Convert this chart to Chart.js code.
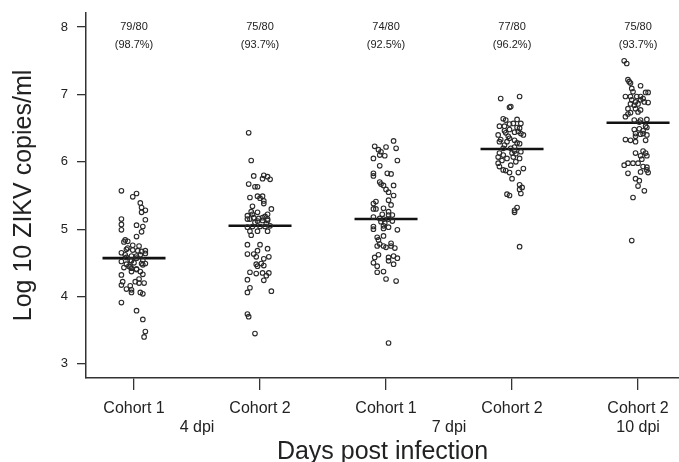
<!DOCTYPE html>
<html>
<head>
<meta charset="utf-8">
<script src="https://cdn.jsdelivr.net/npm/chart.js@4/dist/chart.umd.min.js"></script>
<style>
  html, body { margin: 0; padding: 0; background: #fff; }
  #wrap { width: 679px; height: 462px; }
</style>
</head>
<body>
<div id="wrap"><canvas id="chart" width="679" height="462"></canvas></div>
<script>
// groups on the x axis
const cohortLabels = ["Cohort 1", "Cohort 2", "Cohort 1", "Cohort 2", "Cohort 2"];
const dpiLabels = ["4 dpi", "7 dpi", "10 dpi"];
const dpiAt = [1.5, 3.5, 5];
const detected = ["79/80", "75/80", "74/80", "77/80", "75/80"];
const detectedPct = ["(98.7%)", "(93.7%)", "(92.5%)", "(96.2%)", "(93.7%)"];
const medians = [4.57, 5.05, 5.15, 6.19, 6.58];
const yTicks = [3, 4, 5, 6, 7, 8];

// log10 copies/ml
const g1Values = [5.57, 5.48, 5.53, 5.39, 5.32, 5.28, 5.25, 5.15, 5.07, 4.99, 5.06, 5.14, 5.04, 4.96, 4.89, 4.84, 4.82, 4.81, 4.76, 4.72,
  4.69, 4.68, 4.67, 4.68, 4.64, 4.65, 4.62, 4.60, 4.60, 4.58, 4.57, 4.52, 4.54, 4.54, 4.49, 4.47, 4.44, 4.42, 4.41, 4.53,
  4.49, 4.45, 4.37, 4.40, 4.37, 4.33, 4.32, 4.26, 4.22, 4.20, 4.20, 4.22, 4.17, 4.16, 4.11, 4.10, 4.06, 4.06, 4.04, 3.91,
  3.79, 3.66, 3.48, 3.40, 4.70, 4.62, 4.50, 4.48, 4.75, 4.43];
const g1Jitter = [-0.10, -0.01, 0.02, 0.05, 0.06, 0.09, 0.06, -0.10, -0.10, -0.10, 0.02, 0.09, 0.07, 0.06, 0.02, -0.07, -0.05, -0.08, -0.01, -0.05,
  -0.01, 0.03, 0.06, 0.09, 0.09, -0.10, -0.07, 0.02, -0.02, -0.06, 0.02, -0.10, -0.03, 0.07, 0.09, 0.07, -0.03, -0.02, 0.02, -0.02,
  0.06, -0.04, -0.02, 0.02, 0.05, 0.07, -0.10, 0.04, 0.01, 0.04, 0.08, -0.09, -0.10, -0.03, -0.06, -0.02, -0.02, 0.05, 0.07, -0.10,
  0.02, 0.07, 0.09, 0.08, -0.06, 0.05, 0.00, -0.06, 0.04, -0.08];

const g2Values = [6.43, 6.02, 5.79, 5.80, 5.78, 5.75, 5.74, 5.67, 5.63, 5.63, 5.49, 5.49, 5.46, 5.47, 5.42, 5.38, 5.34, 5.26, 5.30, 5.20,
  5.22, 5.19, 5.15, 5.15, 5.17, 5.16, 5.17, 5.15, 5.12, 5.13, 5.13, 5.10, 5.03, 5.04, 5.04, 5.04, 5.05, 4.97, 4.97, 4.97,
  4.91, 4.77, 4.77, 4.71, 4.68, 4.63, 4.63, 4.59, 4.56, 4.59, 4.48, 4.49, 4.45, 4.46, 4.36, 4.34, 4.35, 4.35, 4.31, 4.25,
  4.24, 4.13, 4.06, 4.08, 3.74, 3.70, 3.45, 5.22, 5.08, 5.25];
const g2Jitter = [-0.09, -0.07, -0.05, 0.03, 0.06, 0.02, 0.08, -0.09, -0.04, -0.02, -0.02, 0.02, 0.00, -0.08, 0.03, 0.03, -0.06, -0.07, 0.09, -0.10,
  0.06, 0.04, -0.10, -0.08, -0.05, -0.01, 0.02, 0.06, -0.02, 0.02, 0.06, -0.04, -0.10, -0.06, 0.00, 0.04, 0.08, -0.08, -0.02, 0.06,
  -0.07, -0.10, 0.00, 0.06, -0.02, -0.10, -0.05, -0.03, 0.03, 0.07, -0.03, 0.01, -0.02, 0.03, -0.08, -0.03, 0.02, 0.07, 0.05, -0.10,
  0.03, -0.08, -0.10, 0.09, -0.10, -0.09, -0.04, -0.06, 0.05, -0.02];

const g3Values = [6.31, 6.23, 6.22, 6.20, 6.18, 6.15, 6.10, 6.09, 6.05, 6.02, 5.94, 5.83, 5.79, 5.83, 5.82, 5.70, 5.67, 5.65, 5.65, 5.59,
  5.55, 5.50, 5.43, 5.41, 5.38, 5.36, 5.30, 5.30, 5.31, 5.26, 5.22, 5.21, 5.21, 5.18, 5.16, 5.15, 5.15, 5.11, 5.09, 5.04,
  5.05, 5.03, 5.00, 5.01, 4.99, 4.88, 4.90, 4.75, 4.78, 4.75, 4.73, 4.79, 4.75, 4.72, 4.58, 4.58, 4.60, 4.57, 4.53, 4.50,
  4.45, 4.48, 4.36, 4.37, 4.26, 4.23, 3.31, 4.84, 5.12, 4.62];
const g3Jitter = [0.06, -0.09, 0.00, 0.08, -0.06, -0.04, -0.05, -0.01, -0.10, 0.09, -0.05, -0.10, -0.10, 0.01, 0.04, -0.05, -0.04, -0.02, 0.06, 0.00,
  0.02, 0.06, 0.02, -0.08, -0.10, 0.04, -0.10, -0.08, -0.02, 0.02, -0.03, 0.02, 0.05, -0.10, -0.05, -0.02, 0.02, -0.04, -0.01, -0.10,
  -0.02, 0.02, -0.10, -0.02, 0.09, -0.07, -0.02, -0.07, -0.05, -0.02, 0.00, 0.04, 0.04, 0.07, -0.09, 0.02, 0.06, 0.09, 0.02, -0.10,
  -0.07, 0.06, -0.07, -0.02, 0.00, 0.08, 0.02, -0.06, 0.05, -0.06];

const g4Values = [6.94, 6.97, 6.82, 6.81, 6.64, 6.63, 6.53, 6.53, 6.56, 6.57, 6.57, 6.51, 6.50, 6.46, 6.43, 6.48, 6.45, 6.42, 6.40, 6.38,
  6.40, 6.33, 6.30, 6.30, 6.32, 6.28, 6.20, 6.20, 6.16, 6.15, 6.13, 6.10, 6.13, 6.12, 6.07, 6.05, 6.07, 6.05, 6.00, 5.98,
  5.93, 5.88, 5.87, 5.84, 5.84, 5.90, 5.75, 5.66, 5.62, 5.59, 5.53, 5.52, 5.50, 5.32, 5.28, 5.25, 4.74, 6.25, 6.22, 6.35,
  6.27, 6.02, 5.95, 6.62, 6.44];
const g4Jitter = [-0.09, 0.06, -0.01, -0.02, -0.07, 0.04, -0.10, -0.06, -0.02, 0.01, 0.07, 0.04, 0.06, -0.06, -0.05, -0.02, 0.05, 0.07, -0.11, -0.03,
  0.09, -0.09, -0.10, -0.04, 0.02, 0.04, -0.07, -0.01, 0.02, 0.07, -0.10, -0.07, 0.00, 0.03, -0.11, -0.04, 0.01, 0.06, 0.03, -0.11,
  -0.10, -0.07, -0.05, -0.02, 0.05, 0.09, 0.00, 0.06, 0.08, 0.06, 0.07, -0.04, -0.02, 0.04, 0.02, 0.02, 0.06, -0.06, 0.02, -0.02,
  0.06, -0.08, -0.01, -0.05, 0.02];

const g5Values = [7.50, 7.46, 7.22, 7.19, 7.17, 7.13, 7.09, 7.04, 7.03, 7.03, 6.97, 6.97, 6.97, 6.97, 6.94, 6.92, 6.92, 6.89, 6.89, 6.88,
  6.86, 6.86, 6.84, 6.79, 6.79, 6.77, 6.74, 6.73, 6.71, 6.67, 6.62, 6.63, 6.62, 6.59, 6.53, 6.51, 6.48, 6.49, 6.46, 6.42,
  6.42, 6.41, 6.40, 6.38, 6.33, 6.32, 6.30, 6.32, 6.13, 6.16, 6.13, 6.09, 6.09, 6.04, 5.95, 5.98, 5.98, 5.98, 5.93, 5.92,
  5.88, 5.84, 5.85, 5.83, 5.75, 5.72, 5.64, 5.57, 5.47, 4.83];
const g5Jitter = [-0.11, -0.09, -0.08, -0.07, -0.06, 0.02, -0.05, -0.04, 0.06, 0.08, -0.10, -0.06, -0.01, 0.02, 0.04, 0.02, -0.05, -0.02, 0.05, 0.08,
  -0.06, 0.00, -0.03, -0.08, -0.02, 0.02, 0.00, -0.06, -0.08, -0.10, -0.03, 0.07, 0.02, 0.01, 0.06, 0.07, -0.03, 0.01, 0.04, -0.02,
  0.04, 0.02, 0.07, -0.02, -0.10, -0.06, -0.02, 0.06, -0.02, 0.04, 0.06, 0.07, 0.02, 0.03, -0.11, -0.08, -0.04, 0.00, 0.04, 0.07,
  0.07, 0.08, 0.02, -0.08, -0.02, 0.01, 0.00, 0.05, -0.04, -0.05];

const groupValues = [g1Values, g2Values, g3Values, g4Values, g5Values];
const groupJitter = [g1Jitter, g2Jitter, g3Jitter, g4Jitter, g5Jitter];

const FONT = "'Liberation Sans', Arial, Helvetica, sans-serif";
const INK = "#222";
const MEDIAN_HALF = 0.25;

const pointSets = groupValues.map((vals, i) => ({
  type: "scatter",
  data: vals.map((v, k) => ({ x: i + 1 + groupJitter[i][k], y: v })),
  pointStyle: "circle",
  pointRadius: 2.3,
  pointBorderWidth: 1.1,
  pointBorderColor: "#2a2a2a",
  pointBackgroundColor: "rgba(255,255,255,0)",
  showLine: false,
}));

const medianSets = medians.map((m, i) => ({
  type: "line",
  data: [{ x: i + 1 - MEDIAN_HALF, y: m }, { x: i + 1 + MEDIAN_HALF, y: m }],
  borderColor: "#111",
  borderWidth: 2.6,
  pointRadius: 0,
  fill: false,
}));

const annotations = {
  id: "annotations",
  afterDatasetsDraw(chart) {
    const { ctx, scales: { x, y } } = chart;
    ctx.save();
    ctx.fillStyle = INK;
    ctx.textAlign = "center";
    ctx.textBaseline = "middle";
    ctx.font = "11px " + FONT;
    detected.forEach((t, i) => {
      const px = x.getPixelForValue(i + 1);
      ctx.fillText(t, px, y.getPixelForValue(8.0));
      ctx.fillText(detectedPct[i], px, y.getPixelForValue(7.73));
    });
    ctx.restore();
  },
  afterDraw(chart) {
    const { ctx, scales: { x } } = chart;
    ctx.save();
    ctx.fillStyle = INK;
    ctx.textAlign = "center";
    ctx.textBaseline = "middle";
    ctx.font = "16px " + FONT;
    dpiLabels.forEach((t, i) => {
      ctx.fillText(t, x.getPixelForValue(dpiAt[i]), 428);
    });
    ctx.restore();
  },
};

new Chart(document.getElementById("chart"), {
  data: { datasets: [...pointSets, ...medianSets] },
  options: {
    responsive: false,
    animation: false,
    layout: { autoPadding: false, padding: { top: 13, right: 0, left: 0, bottom: 0 } },
    plugins: { legend: { display: false }, tooltip: { enabled: false } },
    scales: {
      x: {
        type: "linear",
        min: 0.619,
        max: 5.325,
        afterFit: (s) => { s.height = 84; s.paddingLeft = 0; s.paddingRight = 0; },
        afterBuildTicks: (s) => { s.ticks = cohortLabels.map((c, i) => ({ value: i + 1 })); },
        ticks: {
          autoSkip: false,
          maxRotation: 0,
          color: INK,
          padding: 9,
          font: { family: FONT, size: 16 },
          callback: (v) => cohortLabels[v - 1],
        },
        grid: { drawOnChartArea: false, drawTicks: true, tickLength: 12, color: "#333", lineWidth: 1.3 },
        border: { display: true, color: "#333", width: 1.5 },
        title: {
          display: true,
          text: "Days post infection",
          color: INK,
          font: { family: FONT, size: 25, lineHeight: 0.8 },
          padding: { top: 0, bottom: 0 },
        },
      },
      y: {
        type: "linear",
        min: 2.79,
        max: 8.21,
        afterFit: (s) => { s.width = 86; s.paddingTop = 0; s.paddingBottom = 0; },
        afterBuildTicks: (s) => { s.ticks = yTicks.map((v) => ({ value: v })); },
        ticks: {
          color: INK,
          padding: 9,
          font: { family: FONT, size: 13 },
        },
        grid: { drawOnChartArea: false, drawTicks: true, tickLength: 9, color: "#333", lineWidth: 1.3 },
        border: { display: true, color: "#333", width: 1.5 },
        title: {
          display: true,
          text: "Log 10 ZIKV copies/ml",
          color: INK,
          font: { family: FONT, size: 25, lineHeight: 1.2 },
          padding: { top: 9, bottom: 0 },
        },
      },
    },
  },
  plugins: [annotations],
});
</script>
</body>
</html>
